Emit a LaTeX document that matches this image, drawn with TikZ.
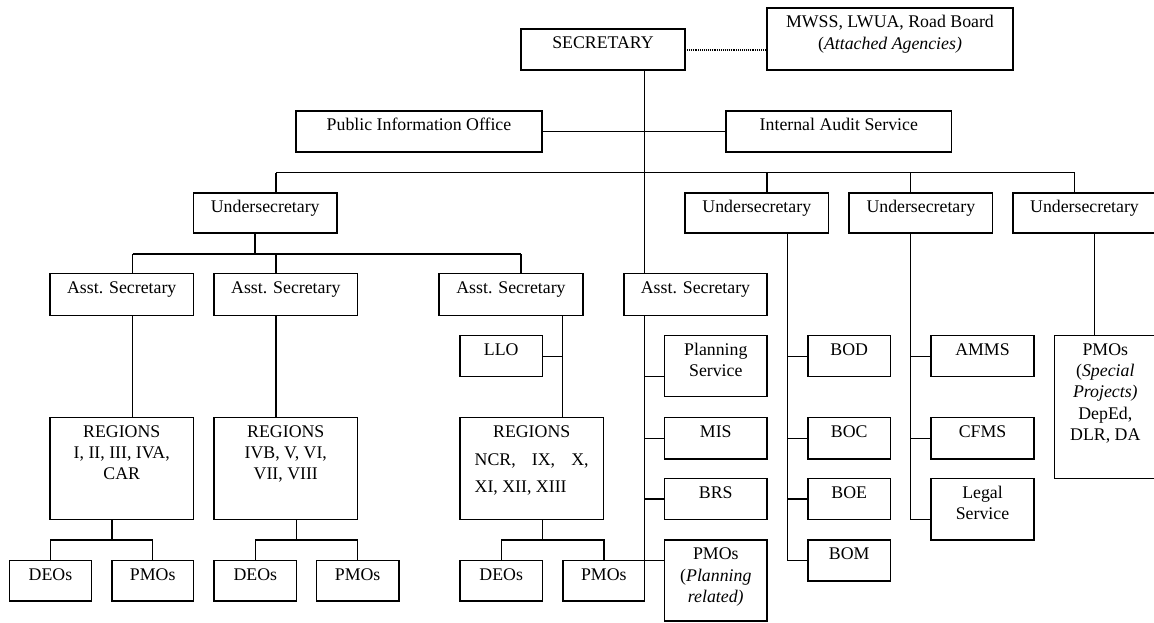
\documentclass[tikz,border=0pt]{standalone}
\usepackage{fontspec}
\setmainfont{Liberation Serif}
\usetikzlibrary{calc}
\tikzset{
  box/.style={draw, line width=1.3pt, rectangle, inner sep=0pt, outer sep=0pt},
  txt/.style={anchor=north, inner sep=0pt, align=center, font=\fontsize{17.8}{21.3}\selectfont},
  conn/.style={line width=1.3pt},
  dots/.style={line width=2pt, dash pattern=on 1pt off 0.9pt},
}
\newcommand{\obox}[5]{\node[box, minimum width={(#3)-(#2)}, minimum height={(#5)-(#4)}] (#1) at ({((#2)+(#3))/2},{((#4)+(#5))/2}) {};}
\newcommand{\otext}[3][4.6pt]{\node[txt] (#2-t) at ([yshift=-#1]#2.north) {\strut #3};}
\begin{document}
\begin{tikzpicture}[x=1pt, y=-1pt]
\fill[white] (0,0) rectangle (1154,622);
\useasboundingbox (0,0) rectangle (1154,622);
% boxes
\obox{sec}{521}{685}{29}{70}
\obox{mwss}{767}{1013}{8}{70}
\obox{pio}{296}{542}{111}{152}
\obox{ias}{726}{951.6}{111}{152}
\obox{us1}{193.5}{337}{193}{233}
\obox{us2}{685}{828.6}{193}{233}
\obox{us3}{849}{992.7}{193}{233}
\obox{us4}{1013}{1156}{193}{233}
\obox{as1}{50}{193.5}{273.7}{315.4}
\obox{as2}{214}{357.6}{273.7}{315.4}
\obox{as3}{439}{583}{273.7}{315.4}
\obox{as4}{624}{767}{273.7}{315.4}
\obox{reg1}{50}{193.5}{417.3}{519.2}
\obox{reg2}{214}{357.6}{417.3}{519.2}
\obox{reg3}{460}{603.4}{417.5}{519.2}
\obox{llo}{460}{542.4}{335.6}{376.8}
\obox{deo1}{9.6}{91.3}{560.5}{601}
\obox{pmo1}{111.9}{193.5}{560.5}{601}
\obox{deo2}{214}{296.6}{560.5}{601}
\obox{pmo2}{316.4}{398.9}{560.5}{601}
\obox{deo3}{460}{542.4}{560.5}{601}
\obox{pmo3}{563}{644.7}{560.5}{601}
\obox{plan}{664.6}{767}{335.6}{396.7}
\obox{mis}{664.6}{767}{417.3}{459}
\obox{brs}{664.6}{767}{478.8}{519.2}
\obox{pmop}{664.6}{767}{540}{621}
\obox{bod}{808}{890.5}{335.6}{376.8}
\obox{boc}{808}{890.5}{417.3}{459}
\obox{boe}{808}{890.5}{478.8}{519.2}
\obox{bom}{808}{890.5}{540}{581}
\obox{amms}{931}{1034}{335.6}{376.8}
\obox{cfms}{931}{1034}{417.3}{459}
\obox{legal}{931}{1034}{478.8}{540}
\obox{pmos}{1054.6}{1156}{335.6}{478.8}
% texts
\otext{sec}{SECRETARY}
\otext{mwss}{MWSS, LWUA, Road Board\\(\textit{Attached Agencies)}}
\otext{pio}{Public Information Office}
\otext{ias}{Internal Audit Service}
\otext{us1}{Undersecretary}
\otext{us2}{Undersecretary}
\otext{us3}{Undersecretary}
\otext{us4}{Undersecretary}
\otext{as1}{Asst. Secretary}
\otext{as2}{Asst. Secretary}
\otext{as3}{Asst. Secretary}
\otext{as4}{Asst. Secretary}
\otext{reg1}{REGIONS\\I, II, III, IVA,\\CAR}
\otext{reg2}{REGIONS\\IVB, V, VI,\\VII, VIII}
\otext{reg3}{REGIONS\\[6.5pt]\makebox[114pt]{NCR,\hfill IX,\hfill X,}\\[6.5pt]\makebox[114pt][l]{XI, XII, XIII}}
\otext{llo}{LLO}
\otext{deo1}{DEOs}
\otext{pmo1}{PMOs}
\otext{deo2}{DEOs}
\otext{pmo2}{PMOs}
\otext{deo3}{DEOs}
\otext{pmo3}{PMOs}
\otext{plan}{Planning\\Service}
\otext{mis}{MIS}
\otext{brs}{BRS}
\otext{pmop}{PMOs\\(\textit{Planning}\\\textit{related)}}
\otext{bod}{BOD}
\otext{boc}{BOC}
\otext{boe}{BOE}
\otext{bom}{BOM}
\otext{amms}{AMMS}
\otext{cfms}{CFMS}
\otext{legal}{Legal\\Service}
\otext{pmos}{PMOs\\(\textit{Special}\\\textit{Projects)}\\DepEd,\\DLR, DA}
% connectors
\coordinate (tx) at (644.7,0);
\draw[dots] (sec.east) -- (sec.east -| mwss.west);
\draw[conn] (sec.south -| tx) -- (as4.north -| tx);
\draw[conn] (pio.east) -- (ias.west);
% undersecretary bus
\coordinate (b1) at (276,172.6);
\coordinate (b2) at (767,172.6);
\coordinate (b3) at (910.3,172.6);
\coordinate (b4) at (1074.5,172.6);
\draw[conn] (b1) -- (b4);
\draw[conn] (b1) -- (b1 |- us1.north);
\draw[conn] (b2) -- (b2 |- us2.north);
\draw[conn] (b3) -- (b3 |- us3.north);
\draw[conn] (b4) -- (b4 |- us4.north);
% asst secretary bus
\coordinate (c0) at (255,254);
\coordinate (c1) at (132.5,254);
\coordinate (c2) at (276,254);
\coordinate (c3) at (521,254);
\draw[conn] (us1.south -| c0) -- (c0);
\draw[conn] (c1) -- (c3);
\draw[conn] (c1) -- (c1 |- as1.north);
\draw[conn] (c2) -- (c2 |- as2.north);
\draw[conn] (c3) -- (c3 |- as3.north);
\draw[conn] (as1.south -| c1) -- (reg1.north -| c1);
\draw[conn] (as2.south -| c2) -- (reg2.north -| c2);
\coordinate (d3) at (562.2,0);
\draw[conn] (as3.south -| d3) -- (reg3.north -| d3);
\draw[conn] (llo.east) -- (llo.east -| d3);
% regions to DEOs / PMOs
\coordinate (e1) at (111.9,540);
\coordinate (e2) at (296.6,540);
\coordinate (e3) at (542.4,540);
\draw[conn] (reg1.south -| e1) -- (e1);
\draw[conn] (deo1.north) |- (pmo1.north |- e1) -- (pmo1.north);
\draw[conn] (reg2.south -| e2) -- (e2);
\draw[conn] (deo2.north) |- (pmo2.north |- e2) -- (pmo2.north);
\draw[conn] (reg3.south -| e3) -- (e3);
\draw[conn] (deo3.north) |- (pmo3.north |- e3) -- (pmo3.north);
% asst secretary 4 column
\coordinate (pl) at ([yshift=-10.65pt]plan.west);
\draw[conn] (as4.south -| tx) -- (pmo3.north -| tx);
\draw[conn] (pl -| tx) -- (pl);
\draw[conn] (mis.west -| tx) -- (mis.west);
\draw[conn] (brs.west -| tx) -- (brs.west);
\draw[conn] (pmo3.north -| tx) -- (pmo3.north -| pmop.west);
% undersecretary 2 column
\coordinate (f2) at (787.4,0);
\draw[conn] (us2.south -| f2) -- (bom.west -| f2);
\draw[conn] (bod.west -| f2) -- (bod.west);
\draw[conn] (boc.west -| f2) -- (boc.west);
\draw[conn] (boe.west -| f2) -- (boe.west);
\draw[conn] (bom.west -| f2) -- (bom.west);
% undersecretary 3 column
\coordinate (g3) at (910.3,0);
\coordinate (lg) at ([yshift=-9.8pt]legal.west);
\draw[conn] (us3.south -| g3) -- (lg -| g3);
\draw[conn] (amms.west -| g3) -- (amms.west);
\draw[conn] (cfms.west -| g3) -- (cfms.west);
\draw[conn] (lg -| g3) -- (lg);
% undersecretary 4 column
\coordinate (h4) at (1094.3,0);
\draw[conn] (us4.south -| h4) -- (pmos.north -| h4);
\end{tikzpicture}
\end{document}
